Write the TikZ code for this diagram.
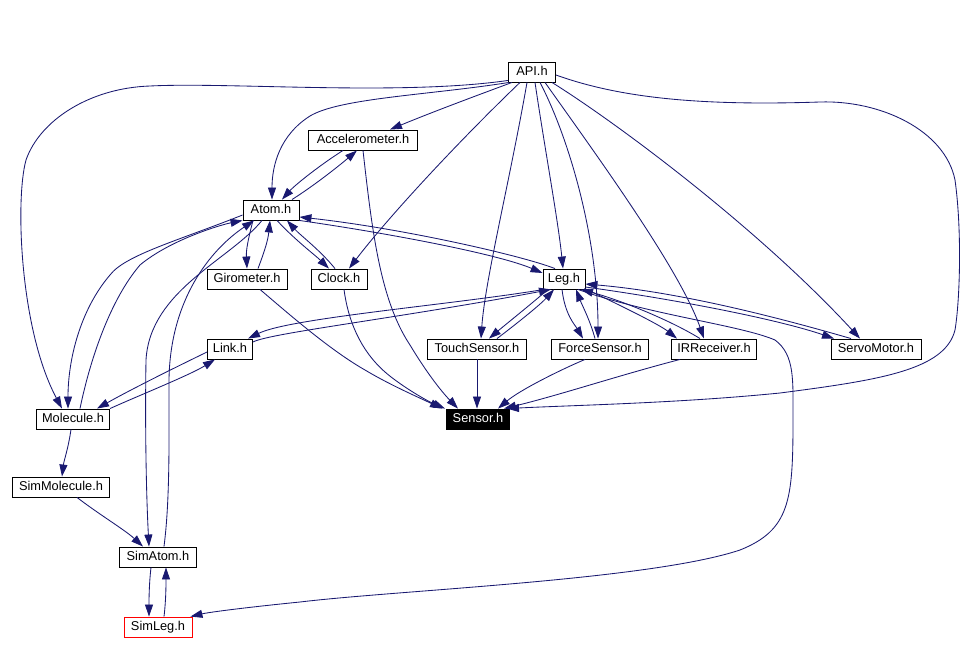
\documentclass[tikz,border=0pt]{standalone}
\usepackage{fontspec}
\setmainfont{Liberation Sans}
\usetikzlibrary{arrows.meta}
\definecolor{edgec}{HTML}{191970}
\begin{document}
\begin{tikzpicture}[x=1pt,y=-1pt,
  box/.style={draw=black, line width=0.9pt, fill=white, minimum height=20pt,
    inner xsep=0pt, inner ysep=0pt, font=\fontsize{12.8pt}{14pt}\selectfont,
    text height=9.3pt, text depth=2.6pt},
  e/.style={draw=edgec, line width=0.85pt, -{Triangle[length=12pt,width=8pt]}}]
\useasboundingbox (0,0) rectangle (977,653);

% nodes
\node[box, minimum width=47pt]  (API)   at (532,72)  {API.h};
\node[box, minimum width=109pt] (Acc)   at (363,140) {Accelerometer.h};
\node[box, minimum width=56pt]  (Atom)  at (271,210) {Atom.h};
\node[box, minimum width=80pt]  (Giro)  at (247,279) {Girometer.h};
\node[box, minimum width=56pt]  (Clock) at (339,279) {Clock.h};
\node[box, minimum width=42pt]  (Leg)   at (564,279) {Leg.h};
\node[box, minimum width=99pt]  (Touch) at (477,349) {TouchSensor.h};
\node[box, minimum width=97pt]  (Force) at (600,349) {ForceSensor.h};
\node[box, minimum width=85pt]  (IRR)   at (714,349) {IRReceiver.h};
\node[box, minimum width=90pt]  (Servo) at (876,349) {ServoMotor.h};
\node[box, minimum width=45pt]  (Link)  at (230,349) {Link.h};
\node[box, minimum width=63pt, fill=black, text=white] (Sensor) at (478,419) {Sensor.h};
\node[box, minimum width=73pt]  (Mol)   at (73,419)  {Molecule.h};
\node[box, minimum width=97pt]  (SimMol) at (61,487) {SimMolecule.h};
\node[box, minimum width=77pt]  (SimAtom) at (158,557) {SimAtom.h};
\node[box, minimum width=68pt, draw=red] (SimLeg) at (158,627) {SimLeg.h};

% API edges
\draw[e] ([yshift=2pt]API.south west) .. controls (400,96) and (230,82) .. (150,86)
  .. controls (90,88) and (40,120) .. (26,160)
  .. controls (15,200) and (20,330) .. ([xshift=-11pt]Mol.north);
\draw[e] ([xshift=-23pt]API.south) .. controls (430,95) and (340,98) .. (310,116)
  .. controls (280,135) and (272,165) .. ([xshift=1pt]Atom.north);
\draw[e] ([xshift=-20pt]API.south) .. controls (470,98) and (430,113) .. ([xshift=27pt]Acc.north);
\draw[e] ([xshift=-12pt]API.south) .. controls (460,140) and (390,215) .. ([xshift=10pt]Clock.north);
\draw[e] ([xshift=-5pt]API.south) .. controls (510,180) and (485,280) .. ([xshift=4pt]Touch.north);
\draw[e] ([xshift=3pt]API.south) .. controls (545,150) and (558,220) .. ([xshift=-1pt]Leg.north);
\draw[e] ([xshift=8pt]API.south) .. controls (570,140) and (598,240) .. ([xshift=-2pt]Force.north);
\draw[e] ([xshift=13pt]API.south) .. controls (600,160) and (680,270) .. ([xshift=-10pt]IRR.north);
\draw[e] ([xshift=20pt]API.south) .. controls (620,125) and (760,230) .. ([xshift=-16pt]Servo.north);
\draw[e] ([yshift=-3pt]API.east) .. controls (620,98) and (700,106) .. (820,102)
  .. controls (880,100) and (945,130) .. (955,180)
  .. controls (962,230) and (960,300) .. (955,330)
  .. controls (945,370) and (880,380) .. (780,393)
  .. controls (680,403) and (580,405) .. ([xshift=-3pt]Sensor.north east);

% Accelerometer
\draw[e] ([xshift=-20pt]Acc.south) .. controls (320,165) and (295,185) .. ([xshift=11pt]Atom.north);
\draw[e] ([xshift=21pt]Atom.north) .. controls (315,185) and (340,165) .. ([xshift=-6pt]Acc.south);
\draw[e] (Acc.south) .. controls (372,230) and (380,300) .. (410,345)
  .. controls (425,370) and (440,390) .. ([xshift=-20pt]Sensor.north);

% Atom
\draw[e] ([xshift=-18pt]Atom.south) .. controls (248,240) and (246,250) .. (Giro.north);
\draw[e] ([xshift=11pt]Giro.north) .. controls (265,250) and (268,240) .. ([xshift=-1pt]Atom.south);
\draw[e] ([xshift=6pt]Atom.south) .. controls (295,240) and (315,255) .. ([xshift=-10pt]Clock.north);
\draw[e] ([xshift=-4pt]Clock.north) .. controls (320,250) and (300,235) .. ([xshift=16pt]Atom.south);
\draw[e] (Atom.south east) .. controls (400,235) and (500,255) .. ([yshift=6pt]Leg.west);
\draw[e] ([xshift=-9pt]Leg.north) .. controls (520,255) and (400,228) .. ([yshift=-7pt]Atom.east);
\draw[e] ([yshift=-5pt]Atom.west) .. controls (180,240) and (125,255) .. (110,275)
  .. controls (80,310) and (68,360) .. ([xshift=-5pt]Mol.north);
\draw[e] ([xshift=7pt]Mol.north) .. controls (90,360) and (110,300) .. (140,265)
  .. controls (170,240) and (220,225) .. (Atom.south west);
\draw[e] ([xshift=-9pt]Atom.south) .. controls (230,260) and (150,290) .. (146,360)
  .. controls (145,420) and (146,490) .. ([xshift=-9pt]SimAtom.north);
\draw[e] ([xshift=6pt]SimAtom.north) .. controls (170,500) and (169,440) .. (169,380)
  .. controls (170,300) and (210,250) .. ([xshift=-17pt]Atom.south);

% Leg
\draw[e] ([xshift=-20pt]Leg.south) .. controls (450,305) and (290,318) .. ([xshift=18pt]Link.north);
\draw[e] ([yshift=7pt]Link.east) .. controls (270,333) and (400,318) .. ([xshift=-13pt]Leg.south);
\draw[e] ([xshift=-16pt]Leg.south) .. controls (530,305) and (505,325) .. ([xshift=12pt]Touch.north);
\draw[e] ([xshift=20pt]Touch.north) .. controls (515,325) and (540,305) .. ([xshift=-10pt]Leg.south);
\draw[e] ([xshift=-2pt]Leg.south) .. controls (565,315) and (575,325) .. ([xshift=-17pt]Force.north);
\draw[e] ([xshift=-5pt]Force.north) .. controls (590,320) and (582,305) .. ([xshift=12pt]Leg.south);
\draw[e] ([xshift=-1pt,yshift=1pt]Leg.south east) .. controls (620,305) and (660,325) .. ([xshift=-37pt]IRR.north);
\draw[e] ([xshift=-14pt]IRR.north) .. controls (670,320) and (620,300) .. ([xshift=17pt]Leg.south);
\draw[e] ([yshift=-8pt]Leg.east) .. controls (680,300) and (780,320) .. ([xshift=-42pt]Servo.north);
\draw[e] ([xshift=-25pt]Servo.north) .. controls (780,318) and (680,292) .. ([yshift=-5pt]Leg.east);
\draw[e] ([xshift=14pt]Leg.south) .. controls (650,315) and (740,325) .. (775,340)
  .. controls (795,355) and (793,380) .. (793,420)
  .. controls (793,500) and (790,530) .. (740,550)
  .. controls (650,580) and (400,590) .. (300,602)
  .. controls (250,607) and (210,612) .. ([xshift=-2pt]SimLeg.north east);

% Link / Molecule
\draw[e] ([yshift=-3pt]Link.west) .. controls (170,370) and (130,390) .. ([xshift=24pt]Mol.north);
\draw[e] ([xshift=37pt]Mol.north) .. controls (140,395) and (190,375) .. ([xshift=-15pt]Link.south);
\draw[e] ([xshift=-2pt]Mol.south) .. controls (68,450) and (64,460) .. ([xshift=1pt]SimMol.north);
\draw[e] ([xshift=16pt]SimMol.south) .. controls (100,515) and (125,530) .. ([xshift=-15pt]SimAtom.north);
\draw[e] ([xshift=-7pt]SimAtom.south) .. controls (149,585) and (149,600) .. ([xshift=-9pt]SimLeg.north);
\draw[e] ([xshift=6pt]SimLeg.north) .. controls (166,600) and (166,585) .. ([xshift=8pt]SimAtom.south);

% into Sensor
\draw[e] (Touch.south) -- ([xshift=-1pt]Sensor.north);
\draw[e] ([xshift=-15pt]Force.south) .. controls (560,370) and (520,390) .. ([xshift=20pt]Sensor.north);
\draw[e] ([xshift=-34pt]IRR.south) .. controls (620,375) and (560,395) .. ([xshift=26pt]Sensor.north);
\draw[e] ([xshift=13pt]Giro.south) .. controls (290,315) and (330,350) .. (365,370)
  .. controls (390,385) and (420,398) .. ([xshift=-36pt]Sensor.north);
\draw[e] ([xshift=5pt]Clock.south) .. controls (348,320) and (360,350) .. (385,372)
  .. controls (400,385) and (425,400) .. ([xshift=-33pt]Sensor.north);
\end{tikzpicture}
\end{document}
